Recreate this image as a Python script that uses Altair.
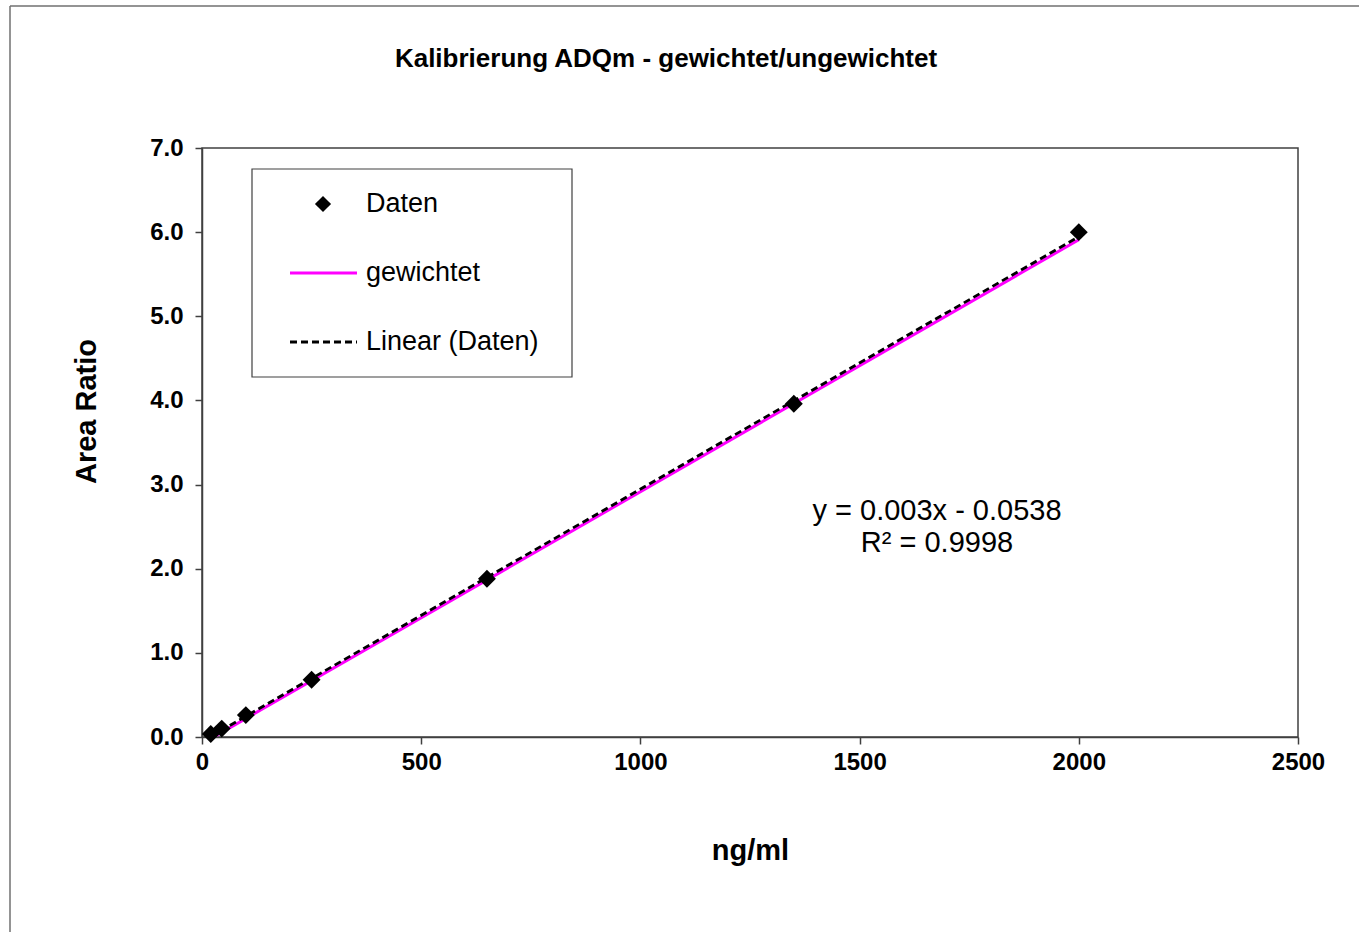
import altair as alt
import pandas as pd

# Calibration standards: concentration (ng/ml) and measured area ratio
conc = [20, 45, 100, 250, 650, 1350, 2000]
area_ratio = [0.035, 0.10, 0.26, 0.68, 1.88, 3.96, 6.00]

# Weighted calibration line (end points)
weighted_x = [20, 2000]
weighted_y = [-0.02, 5.91]

# Unweighted linear trendline as stated in the equation label
SLOPE = 0.003
INTERCEPT = -0.0538
trend_x = [20, 2000]

series_names = ["Daten", "gewichtet", "Linear (Daten)"]
equation_lines = ["y = 0.003x - 0.0538", "R² = 0.9998"]
chart_title = "Kalibrierung ADQm - gewichtet/ungewichtet"

W, H = 1096, 589
FONT = "Liberation Sans"
AXIS_GREY = "#404040"

pts = pd.DataFrame({"conc": conc, "ratio": area_ratio})
wdf = pd.DataFrame({"conc": weighted_x, "ratio": weighted_y})
tdf = pd.DataFrame({"conc": trend_x,
                    "ratio": [SLOPE * v + INTERCEPT for v in trend_x]})

xs = alt.Scale(domain=[0, 2500], nice=False, zero=False)
ys = alt.Scale(domain=[0, 7], nice=False, zero=False)

x_axis = alt.Axis(values=[0, 500, 1000, 1500, 2000, 2500], format="d", grid=False,
                  title="ng/ml", titleFontSize=29, titleFontWeight="bold",
                  titleY=113, titleBaseline="middle",
                  labelFontSize=24, labelFontWeight="bold", labelPadding=6,
                  tickSize=7, labelFlush=False)
y_axis = alt.Axis(values=[0, 1, 2, 3, 4, 5, 6, 7], format=".1f", grid=False,
                  title="Area Ratio", titleFontSize=29, titleFontWeight="bold",
                  titleX=-116, titleY=263, titleAngle=-90,
                  titleAlign="center", titleBaseline="middle",
                  labelFontSize=24, labelFontWeight="bold", labelPadding=12,
                  tickSize=7, labelFlush=False)

X = alt.X("conc:Q", scale=xs, axis=x_axis)
Y = alt.Y("ratio:Q", scale=ys, axis=y_axis)

weighted = alt.Chart(wdf).mark_line(color="#ff00ff", strokeWidth=3, clip=True).encode(
    x=X, y=Y)

trend = alt.Chart(tdf).mark_line(color="black", strokeWidth=2.8,
                                 strokeDash=[7, 4], clip=True).encode(
    x=X, y=Y)

points = alt.Chart(pts).mark_point(shape="diamond", filled=True, size=320,
                                   color="black", opacity=1).encode(
    x=X, y=Y)

one = pd.DataFrame({"k": [0]})

# Regression equation
eq_top = alt.Chart(one).mark_text(
    fontSize=29, font=FONT, color="black", align="center", baseline="middle",
    text=equation_lines[0]).encode(x=alt.value(735), y=alt.value(363))
eq_bottom = alt.Chart(one).mark_text(
    fontSize=29, font=FONT, color="black", align="center", baseline="middle",
    text=equation_lines[1]).encode(x=alt.value(735), y=alt.value(395))

# Legend box and entries
leg_box = alt.Chart(one).mark_rect(
    fill="white", stroke="#404040", strokeWidth=1.2).encode(
    x=alt.value(50), x2=alt.value(370), y=alt.value(21), y2=alt.value(229))

leg_rows = [56, 125, 194]
leg_texts = [
    alt.Chart(one).mark_text(fontSize=27, font=FONT, align="left",
                             baseline="middle", color="black", text=name).encode(
        x=alt.value(164), y=alt.value(yy))
    for name, yy in zip(series_names, leg_rows)
]
leg_diamond = alt.Chart(one).mark_point(
    shape="diamond", filled=True, size=260, color="black", opacity=1).encode(
    x=alt.value(121), y=alt.value(leg_rows[0]))
leg_weighted = alt.Chart(one).mark_rule(
    color="#ff00ff", strokeWidth=3).encode(
    x=alt.value(88), x2=alt.value(155), y=alt.value(leg_rows[1]))
leg_trend = alt.Chart(one).mark_rule(
    color="black", strokeWidth=2.8, strokeDash=[7, 4]).encode(
    x=alt.value(88), x2=alt.value(155), y=alt.value(leg_rows[2]))

# Title
title = alt.Chart(one).mark_text(
    fontSize=26, fontWeight="bold", font=FONT, color="black",
    align="center", baseline="middle", text=chart_title).encode(
    x=alt.value(464), y=alt.value(-89))

# Outer chart-area frame (top and left edges)
frame_v = alt.Chart(one).mark_rule(color="#707070", strokeWidth=1.5).encode(
    x=alt.value(-192), y=alt.value(-142), y2=alt.value(800))
frame_h = alt.Chart(one).mark_rule(color="#707070", strokeWidth=1.5).encode(
    x=alt.value(-192), x2=alt.value(1170), y=alt.value(-142))

chart = alt.layer(
    weighted, trend, points, eq_top, eq_bottom,
    leg_box, leg_weighted, leg_trend, leg_diamond, *leg_texts,
    title, frame_v, frame_h,
).properties(
    width=W, height=H,
    autosize=alt.AutoSizeParams(type="none"),
    padding={"left": 202, "top": 148, "right": 61, "bottom": 195},
    background="white",
).configure_view(
    stroke=AXIS_GREY, strokeWidth=1.5
).configure_axis(
    domainColor=AXIS_GREY, tickColor=AXIS_GREY, domainWidth=1.5, tickWidth=1.5,
    labelFont=FONT, titleFont=FONT, labelColor="black", titleColor="black",
)

chart.save("out.html", embed_options={"renderer": "svg", "actions": False})
